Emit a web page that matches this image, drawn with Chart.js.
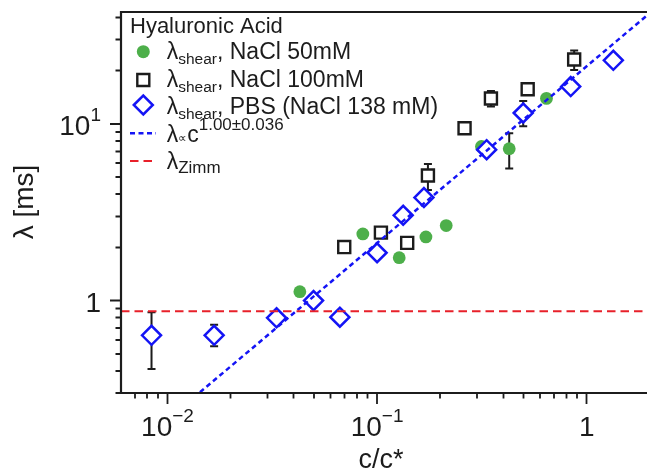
<!DOCTYPE html>
<html>
<head>
<meta charset="utf-8">
<script src="https://cdn.jsdelivr.net/npm/chart.js@4/dist/chart.umd.min.js"></script>
<style>
html,body{margin:0;padding:0;background:#fff;overflow:hidden}
canvas{display:block}
</style>
</head>
<body>
<canvas id="c" width="647" height="474" style="width:647px;height:474px"></canvas>
<script>
// ---- data ----
const nacl50_c      = [0.0428, 0.0855, 0.1275, 0.171, 0.2137, 0.3147, 0.427, 0.643];
const nacl50_lambda = [1.123, 2.385, 1.749, 2.294, 2.66, 7.45, 7.24, 13.95];
const nacl50_errLow  = [null, null, null, null, null, null, 5.59, null];
const nacl50_errHigh = [null, null, null, null, null, null, 8.87, null];

const nacl100_c      = [0.0697, 0.1043, 0.1392, 0.1748, 0.2614, 0.3493, 0.523, 0.8716];
const nacl100_lambda = [2.009, 2.425, 2.123, 5.11, 9.46, 13.94, 15.72, 23.15];
const nacl100_errLow  = [null, null, null, 4.23, null, 12.54, null, 20.21];
const nacl100_errHigh = [null, null, null, 5.93, null, 15.38, null, 26.07];

const pbs_c      = [0.00839, 0.01669, 0.03314, 0.04975, 0.06645, 0.1000, 0.1332, 0.1673, 0.3332, 0.498, 0.839, 1.34];
const pbs_lambda = [0.636, 0.636, 0.799, 1.00, 0.806, 1.866, 3.04, 3.83, 7.15, 11.53, 16.27, 22.9];
const pbs_errLow  = [0.410, 0.552, null, null, null, null, null, null, null, 9.71, null, null];
const pbs_errHigh = [0.860, 0.730, null, null, null, null, null, null, null, 13.5, null, null];

const fit_c      = [0.01, 2.0];
const fit_lambda = [0.212, 42.4];

const zimm_c      = [0.006, 1.94];
const zimm_lambda = [0.87, 0.87];

const xTickValues = [0.01, 0.1, 1];
const xTickBase   = ["10", "10", "1"];
const xTickExp    = ["\u22122", "\u22121", ""];
const yTickValues = [1, 10];
const yTickBase   = ["1", "10"];
const yTickExp    = ["", "1"];

const legendTitle = "Hyaluronic Acid";
const xTitle = "c/c*";
const yTitle = "\u03bb [ms]";

// ---- styles ----
const FONT = '"Liberation Sans", Arial, Helvetica, sans-serif';
const GREEN = '#4daf4a', BLACK = '#1c1c1c', BLUE = '#1414f5', RED = '#e8202a';

function pts(xs, ys) { return xs.map((x, i) => ({x: x, y: ys[i]})); }

function rich(ctx, x, y, parts, align) {
  const w = parts.map(p => { ctx.font = p.size + 'px ' + FONT; return ctx.measureText(p.t).width; });
  const total = w.reduce((a, b) => a + b, 0);
  let sx = align === 'center' ? x - total / 2 : (align === 'right' ? x - total : x);
  ctx.textAlign = 'left';
  ctx.textBaseline = 'alphabetic';
  parts.forEach((p, i) => {
    ctx.font = p.size + 'px ' + FONT;
    ctx.fillText(p.t, sx, y + (p.dy || 0));
    sx += w[i] + (p.gap || 0);
  });
}

const errorBars = {
  id: 'errorBars',
  beforeDatasetsDraw(chart) {
    const ctx = chart.ctx, xs = chart.scales.x, ys = chart.scales.y;
    const sets = [[nacl50_c, nacl50_errLow, nacl50_errHigh], [nacl100_c, nacl100_errLow, nacl100_errHigh], [pbs_c, pbs_errLow, pbs_errHigh]];
    ctx.save();
    ctx.strokeStyle = BLACK; ctx.lineWidth = 2;
    sets.forEach(([cx, lo, hi]) => {
      cx.forEach((c, i) => {
        if (lo[i] == null) return;
        const px = xs.getPixelForValue(c), y1 = ys.getPixelForValue(lo[i]), y2 = ys.getPixelForValue(hi[i]);
        ctx.beginPath();
        ctx.moveTo(px, y1); ctx.lineTo(px, y2);
        ctx.moveTo(px - 4, y1); ctx.lineTo(px + 4, y1);
        ctx.moveTo(px - 4, y2); ctx.lineTo(px + 4, y2);
        ctx.stroke();
      });
    });
    ctx.restore();
  }
};

const axesAndLegend = {
  id: 'axesAndLegend',
  afterDatasetsDraw(chart) {
    const ctx = chart.ctx, xs = chart.scales.x, ys = chart.scales.y, a = chart.chartArea;
    ctx.save();
    ctx.fillStyle = BLACK; ctx.strokeStyle = BLACK;
    // spines
    ctx.lineWidth = 2.2;
    ctx.beginPath();
    ctx.moveTo(a.left, a.top); ctx.lineTo(a.right + 2, a.top);
    ctx.moveTo(a.left, a.top - 1.1); ctx.lineTo(a.left, a.bottom + 1.1);
    ctx.moveTo(a.left - 1.1, a.bottom); ctx.lineTo(a.right + 2, a.bottom);
    ctx.stroke();
    // ticks
    ctx.lineWidth = 1.8;
    ctx.beginPath();
    for (let e = -3; e <= 1; e++) {
      for (let k = 1; k <= 9; k++) {
        const v = k * Math.pow(10, e);
        const len = k === 1 ? 11 : 5.5;
        if (v >= xs.min * 1.001 && v <= xs.max) {
          const px = Math.round(xs.getPixelForValue(v) * 2) / 2;
          ctx.moveTo(px, a.bottom); ctx.lineTo(px, a.bottom + len);
        }
        if (v >= ys.min && v <= ys.max) {
          const py = Math.round(ys.getPixelForValue(v) * 2) / 2;
          ctx.moveTo(a.left, py); ctx.lineTo(a.left - len, py);
        }
      }
    }
    ctx.stroke();
    // tick labels
    xTickValues.forEach((v, i) => {
      const px = xs.getPixelForValue(v);
      const parts = [{t: xTickBase[i], size: 28}];
      if (xTickExp[i]) parts.push({t: xTickExp[i], size: 19, dy: -14});
      rich(ctx, px, 436, parts, 'center');
    });
    yTickValues.forEach((v, i) => {
      const py = ys.getPixelForValue(v);
      const parts = [{t: yTickBase[i], size: 28}];
      if (yTickExp[i]) parts.push({t: yTickExp[i], size: 19, dy: -14});
      rich(ctx, 101, py + 11, parts, 'right');
    });
    // axis titles
    rich(ctx, 381, 468, [{t: xTitle, size: 27}], 'center');
    ctx.save();
    ctx.translate(25, 202);
    ctx.rotate(-Math.PI / 2);
    ctx.font = '28px ' + FONT;
    ctx.textAlign = 'center'; ctx.textBaseline = 'middle';
    ctx.fillText(yTitle, 0, 0);
    ctx.restore();

    // legend
    const mx = 143.3, tx = 166.7, FS = 23, SS = 15.5;
    rich(ctx, 130, 32.5, [{t: legendTitle, size: 22}], 'left');
    // row 1: circle
    ctx.fillStyle = GREEN;
    ctx.beginPath(); ctx.arc(mx, 51.7, 6.5, 0, Math.PI * 2); ctx.fill();
    ctx.fillStyle = BLACK;
    rich(ctx, tx, 58.5, [{t: '\u03bb', size: FS}, {t: 'shear', size: SS, dy: 5}, {t: ', NaCl 50mM', size: FS}], 'left');
    // row 2: square
    ctx.lineWidth = 2.4; ctx.strokeStyle = BLACK; ctx.fillStyle = '#fff';
    ctx.beginPath(); ctx.rect(mx - 6, 80 - 6, 12, 12); ctx.fill(); ctx.stroke();
    ctx.fillStyle = BLACK;
    rich(ctx, tx, 86.5, [{t: '\u03bb', size: FS}, {t: 'shear', size: SS, dy: 5}, {t: ', NaCl 100mM', size: FS}], 'left');
    // row 3: diamond
    ctx.lineWidth = 2.5; ctx.strokeStyle = BLUE; ctx.fillStyle = '#fff';
    ctx.beginPath();
    ctx.moveTo(mx - 9.5, 105); ctx.lineTo(mx, 95.5); ctx.lineTo(mx + 9.5, 105); ctx.lineTo(mx, 114.5); ctx.closePath();
    ctx.fill(); ctx.stroke();
    ctx.fillStyle = BLACK;
    rich(ctx, tx, 113.5, [{t: '\u03bb', size: FS}, {t: 'shear', size: SS, dy: 5}, {t: ', PBS (NaCl 138 mM)', size: FS}], 'left');
    // row 4: fit line
    ctx.strokeStyle = BLUE; ctx.lineWidth = 2.5; ctx.setLineDash([5, 3.5]);
    ctx.beginPath(); ctx.moveTo(130, 133.3); ctx.lineTo(156, 133.3); ctx.stroke();
    ctx.setLineDash([]);
    ctx.fillStyle = BLACK;
    rich(ctx, tx, 141.5, [{t: '\u03bb', size: FS}, {t: '\u221d', size: 12, dy: 0}, {t: 'c', size: FS}, {t: '1.00\u00b10.036', size: 17, dy: -12}], 'left');
    // row 5: zimm
    ctx.strokeStyle = RED; ctx.lineWidth = 2; ctx.setLineDash([8.5, 5]);
    ctx.beginPath(); ctx.moveTo(130, 161); ctx.lineTo(156, 161); ctx.stroke();
    ctx.setLineDash([]);
    rich(ctx, tx, 168.5, [{t: '\u03bb', size: FS}, {t: 'Zimm', size: 17, dy: 4}], 'left');
    ctx.restore();
  }
};

new Chart(document.getElementById('c'), {
  type: 'scatter',
  data: {
    datasets: [
      {label: 'zimm', data: pts(zimm_c, zimm_lambda), showLine: true, pointRadius: 0, borderColor: RED, borderWidth: 2, borderDash: [8.5, 5], order: 0},
      {label: 'fit', data: pts(fit_c, fit_lambda), showLine: true, pointRadius: 0, borderColor: BLUE, borderWidth: 2.5, borderDash: [5, 3.5], order: 1},
      {label: 'PBS', data: pts(pbs_c, pbs_lambda), pointStyle: 'rectRot', pointRadius: 9.5, borderWidth: 2.5, borderColor: BLUE, backgroundColor: '#fff', order: 2},
      {label: 'NaCl 100mM', data: pts(nacl100_c, nacl100_lambda), pointStyle: 'rect', pointRadius: 8.5, borderWidth: 2.4, borderColor: BLACK, backgroundColor: '#fff', order: 3},
      {label: 'NaCl 50mM', data: pts(nacl50_c, nacl50_lambda), pointStyle: 'circle', pointRadius: 6.4, borderWidth: 0, backgroundColor: GREEN, order: 4}
    ]
  },
  options: {
    responsive: false,
    animation: false,
    events: [],
    layout: {autoPadding: false, padding: {left: 121, right: 0, top: 12, bottom: 81}},
    plugins: {legend: {display: false}, tooltip: {enabled: false}},
    scales: {
      x: {type: 'logarithmic', min: 0.006, max: 1.94, display: false},
      y: {type: 'logarithmic', min: 0.313, max: 43, display: false}
    }
  },
  plugins: [errorBars, axesAndLegend]
});
</script>
</body>
</html>
